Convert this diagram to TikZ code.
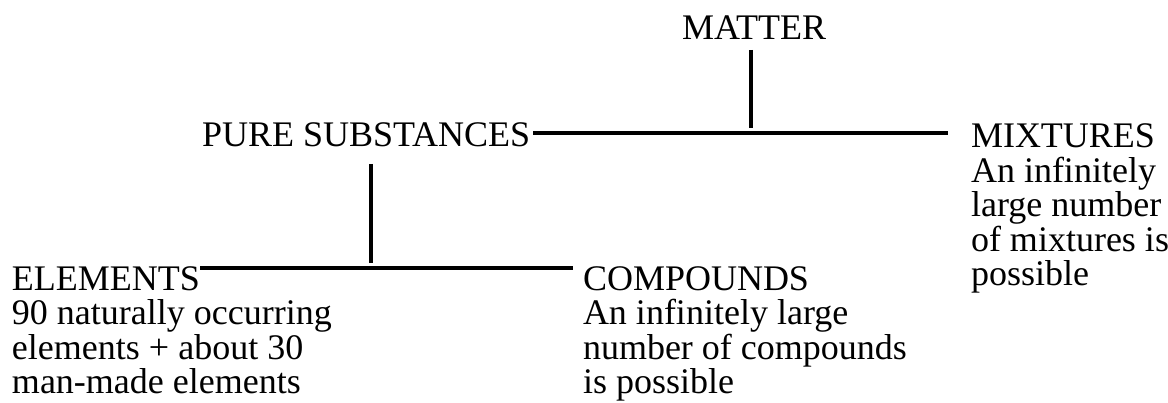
\documentclass[tikz,border=0pt]{standalone}
\usepackage{fontspec}
\setmainfont{Liberation Serif}
\begin{document}
\begin{tikzpicture}[x=1pt,y=1pt,
  lbl/.style={inner sep=0pt,outer sep=0pt,anchor=base west,align=left,font=\fontsize{36}{34.5}\selectfont},
  conn/.style={line width=4pt,line cap=butt}]
\useasboundingbox (0,0) rectangle (1168,-403);
\node[lbl] (matter) at (682,-40) {MATTER};
\node[lbl] (pure) at (202,-147) {PURE SUBSTANCES};
\node[lbl] (mix) at (971,-286) {MIXTURES\\An infinitely\\large number\\of mixtures is\\possible};
\node[lbl] (elem) at (12,-393.5) {ELEMENTS\\90 naturally occurring\\elements + about 30\\man-made elements};
\node[lbl] (comp) at (583,-393.5) {COMPOUNDS\\An infinitely large\\number of compounds\\is possible};
\coordinate (mtop) at (751,-50);
\coordinate (mbot) at (751,-128);
\coordinate (hl) at (533,-133);
\coordinate (hr) at (948,-133);
\coordinate (ptop) at (371,-164);
\coordinate (pbot) at (371,-263);
\coordinate (ll) at (200,-268);
\coordinate (lr) at (573,-268);
\draw[conn] (mtop) -- (mbot);
\draw[conn] (hl) -- (hr);
\draw[conn] (ptop) -- (pbot);
\draw[conn] (ll) -- (lr);
\end{tikzpicture}
\end{document}
